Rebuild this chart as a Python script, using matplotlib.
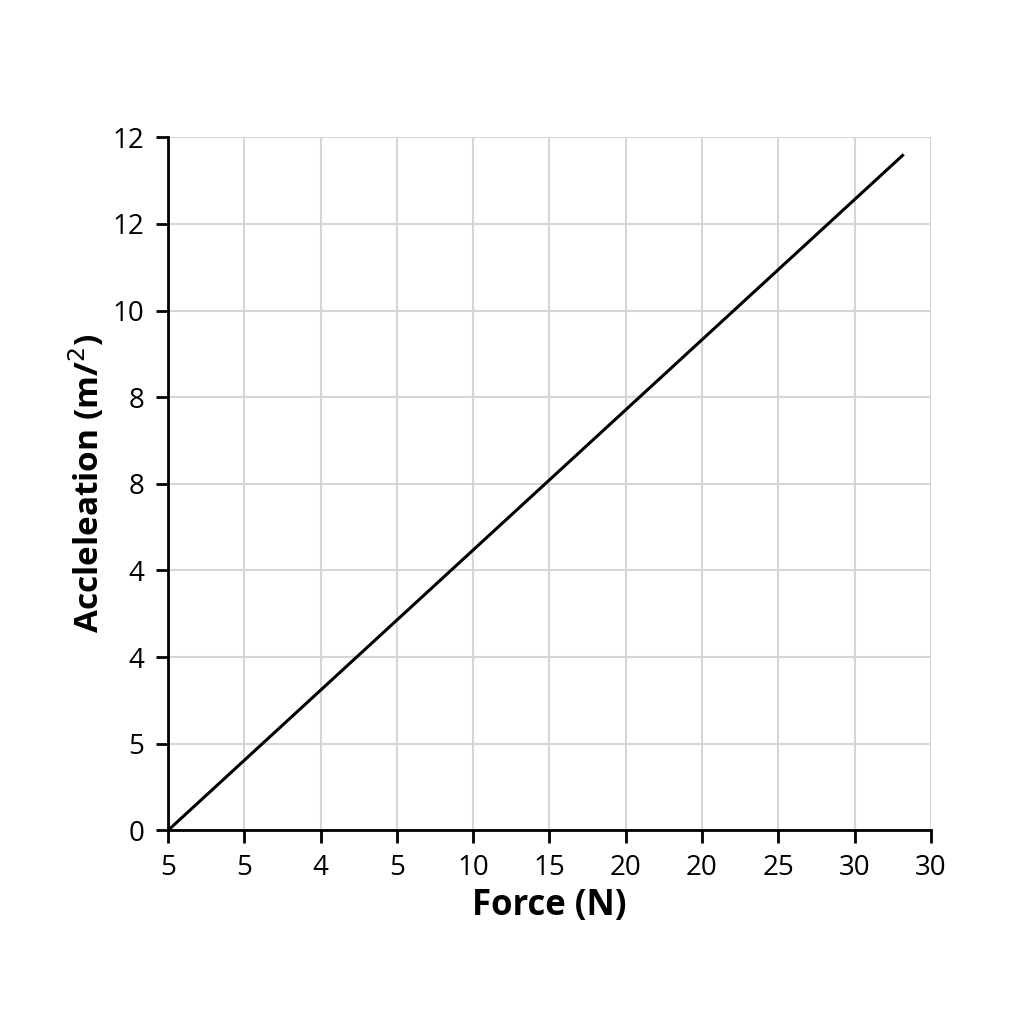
import numpy as np
import matplotlib.pyplot as plt

plt.rcParams['font.family'] = ['Open Sans', 'DejaVu Sans']

# tick labels as printed on the chart
x_labels = ["5", "5", "4", "5", "10", "15", "20", "20", "25", "30", "30"]
y_labels = ["0", "5", "4", "4", "8", "8", "10", "12", "12"]

# line end points (in tick-slot units)
force = [0.0, 9.63]
accel = [0.0, 7.79]

fig = plt.figure(figsize=(10.24, 10.24), dpi=100)
ax = fig.add_axes([0.164, 0.189, 0.745, 0.677])

ax.plot(force, accel, color="black", linewidth=2.2)

ax.set_xlim(0, len(x_labels) - 1)
ax.set_ylim(0, len(y_labels) - 1)
ax.set_xticks(np.arange(len(x_labels)))
ax.set_xticklabels(x_labels)
ax.set_yticks(np.arange(len(y_labels)))
ax.set_yticklabels(y_labels)

ax.grid(True, color="#d6d6d6", linewidth=1.5)
ax.set_axisbelow(True)
for side in ["top", "right"]:
    ax.spines[side].set_visible(False)
for side in ["left", "bottom"]:
    ax.spines[side].set_linewidth(2)

ax.tick_params(axis="both", direction="out", length=9, width=2, labelsize=20, pad=8)

ax.set_xlabel("Force (N)", fontsize=25, fontweight="bold", labelpad=4)
ax.set_ylabel("Accleleation (m/$^2$)", fontsize=24, fontweight="bold", labelpad=4)

fig.savefig("out.png", dpi=100, facecolor="white")
